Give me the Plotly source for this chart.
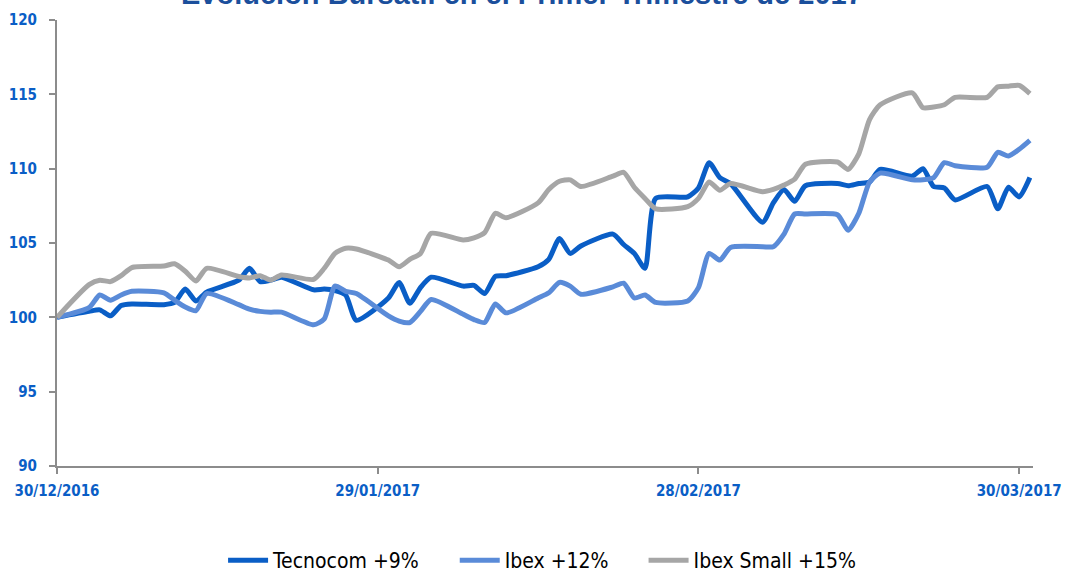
import plotly.graph_objects as go

dates = [
    "2016-12-30",
    "2017-01-02", "2017-01-03", "2017-01-04", "2017-01-05", "2017-01-06",
    "2017-01-09", "2017-01-10", "2017-01-11", "2017-01-12", "2017-01-13",
    "2017-01-16", "2017-01-17", "2017-01-18", "2017-01-19", "2017-01-20",
    "2017-01-23", "2017-01-24", "2017-01-25", "2017-01-26", "2017-01-27",
    "2017-01-30", "2017-01-31", "2017-02-01", "2017-02-02", "2017-02-03",
    "2017-02-06", "2017-02-07", "2017-02-08", "2017-02-09", "2017-02-10",
    "2017-02-13", "2017-02-14", "2017-02-15", "2017-02-16", "2017-02-17",
    "2017-02-20", "2017-02-21", "2017-02-22", "2017-02-23", "2017-02-24",
    "2017-02-27", "2017-02-28", "2017-03-01", "2017-03-02", "2017-03-03",
    "2017-03-06", "2017-03-07", "2017-03-08", "2017-03-09", "2017-03-10",
    "2017-03-13", "2017-03-14", "2017-03-15", "2017-03-16", "2017-03-17",
    "2017-03-20", "2017-03-21", "2017-03-22", "2017-03-23", "2017-03-24",
    "2017-03-27", "2017-03-28", "2017-03-29", "2017-03-30", "2017-03-31",
]

tecnocom = [
    100.0,
    100.4, 100.5, 100.1, 100.8, 100.9,
    100.85, 101.0, 101.9, 101.1, 101.7,
    102.5, 103.3, 102.4, 102.5, 102.7,
    101.85, 101.9, 101.8, 101.5, 99.8,
    101.3, 102.35, 100.95, 102.0, 102.7,
    102.1, 102.15, 101.6, 102.75, 102.8,
    103.4, 103.9, 105.3, 104.3, 104.8,
    105.6, 104.9, 104.3, 103.3, 108.0,
    108.1, 108.7, 110.4, 109.4, 109.0,
    106.4, 107.7, 108.6, 107.8, 108.85,
    109.0, 108.85, 109.0, 109.1, 109.95,
    109.5, 110.0, 108.8, 108.7, 107.9,
    108.8, 107.3, 108.75, 108.1, 109.4,
]

ibex = [
    100.0,
    100.65, 101.5, 101.15, 101.5, 101.75,
    101.65, 101.15, 100.7, 100.45, 101.6,
    100.85, 100.55, 100.4, 100.35, 100.35,
    99.5, 99.9, 102.1, 101.75, 101.6,
    100.1, 99.75, 99.65, 100.4, 101.2,
    100.2, 99.85, 99.65, 100.9, 100.3,
    101.3, 101.65, 102.35, 102.1, 101.55,
    102.05, 102.3, 101.3, 101.5, 101.0,
    101.1, 102.0, 104.3, 103.85, 104.7,
    104.75, 104.75, 105.6, 106.95, 106.95,
    106.9, 105.85, 107.0, 109.1, 109.7,
    109.25, 109.25, 109.4, 110.4, 110.2,
    110.1, 111.1, 110.85, 111.3, 111.9,
]

ibex_small = [
    100.0,
    102.2, 102.5, 102.4, 102.8, 103.35,
    103.45, 103.6, 103.1, 102.45, 103.3,
    102.75, 102.65, 102.8, 102.5, 102.85,
    102.55, 103.3, 104.3, 104.65, 104.6,
    103.85, 103.4, 103.9, 104.3, 105.65,
    105.2, 105.35, 105.7, 107.0, 106.7,
    107.7, 108.6, 109.15, 109.25, 108.8,
    109.5, 109.75, 108.75, 108.0, 107.3,
    107.45, 108.0, 109.1, 108.55, 109.0,
    108.45, 108.6, 108.9, 109.3, 110.3,
    110.45, 109.95, 111.0, 113.3, 114.3,
    115.1, 114.1, 114.15, 114.3, 114.8,
    114.8, 115.5, 115.55, 115.6, 115.05,
]

series_names = ["Tecnocom +9%", "Ibex +12%", "Ibex Small +15%"]
series_colors = ["#0A5EC6", "#5A8BD8", "#A6A6A6"]
series_values = [tecnocom, ibex, ibex_small]

x_tickvals = ["2016-12-30", "2017-01-29", "2017-02-28", "2017-03-30"]
x_ticktext = ["30/12/2016", "29/01/2017", "28/02/2017", "30/03/2017"]
y_tickvals = [90, 95, 100, 105, 110, 115, 120]

title_text = "Evolución Bursátil en el Primer Trimestre de 2017"

fig = go.Figure()
n = len(series_names)
for i, (name, color, vals) in enumerate(zip(series_names, series_colors, series_values)):
    pad = "\u00a0" * 5 if i < n - 1 else ""
    fig.add_trace(go.Scatter(
        x=dates, y=vals, name=name + pad, mode="lines",
        line=dict(color=color, width=5, shape="spline", smoothing=0.6),
    ))

narrow = "DejaVu Sans Condensed, DejaVu Sans, Liberation Sans, Arial"
tick_font = dict(family=narrow, size=15, color="#0A5EC6", weight="bold")

fig.update_layout(
    width=1065, height=573,
    paper_bgcolor="white", plot_bgcolor="white",
    margin=dict(l=57, r=32, t=20, b=107, autoexpand=False),
    showlegend=True,
    legend=dict(
        orientation="h", x=0.497, xanchor="center", y=-0.212, yanchor="middle",
        font=dict(family=narrow, size=21, color="#000000"),
        itemwidth=40,
    ),
    xaxis=dict(
        type="date",
        range=["2016-12-30", "2017-03-31 07:00"],
        tickvals=x_tickvals, ticktext=x_ticktext,
        showgrid=False, zeroline=False,
        showline=True, linecolor="#8C8C8C", linewidth=2,
        ticks="outside", ticklen=6, tickcolor="#8C8C8C", tickwidth=2,
        tickfont=dict(**tick_font), tickangle=0,
        ticklabelstandoff=4, automargin=False,
    ),
    yaxis=dict(
        range=[90, 120],
        tickvals=y_tickvals,
        showgrid=False, zeroline=False,
        showline=True, linecolor="#8C8C8C", linewidth=2,
        ticks="outside", ticklen=6, tickcolor="#8C8C8C", tickwidth=2,
        tickfont=dict(**tick_font),
        ticklabelstandoff=9, automargin=False,
    ),
)

fig.add_annotation(
    text="<b>" + title_text + "</b>",
    xref="paper", yref="paper", x=0.476, y=1.019,
    xanchor="center", yanchor="bottom", showarrow=False,
    font=dict(family="Liberation Sans, Arial", size=29, color="#1B4F9C"),
)

fig.write_html(
    "out.html",
    config={"displayModeBar": False},
    post_script="document.body.style.margin='0';",
)
